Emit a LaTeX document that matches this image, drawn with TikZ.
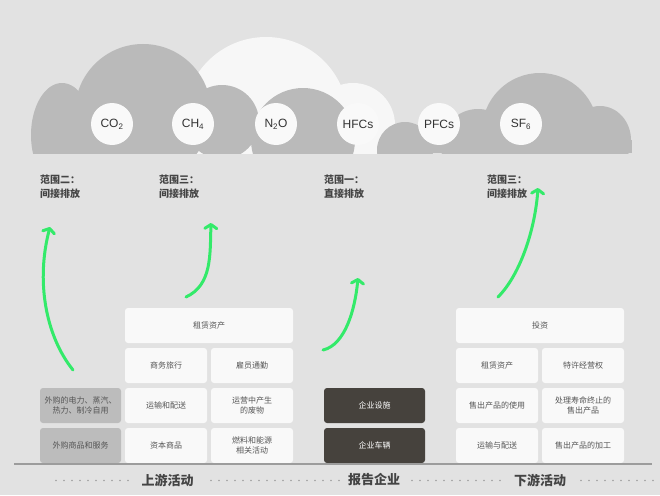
\documentclass[tikz,border=0pt]{standalone}
\usepackage{fontspec}
\setmainfont{Noto Sans CJK SC}
\newfontfamily\gasfont{Liberation Sans}
\usetikzlibrary{arrows.meta}

\definecolor{bgcolor}{HTML}{E2E2E2}
\definecolor{cloudgray}{HTML}{BABABA}
\definecolor{cloudwhite}{HTML}{F7F7F7}
\definecolor{boxwhite}{HTML}{F9F9F9}
\definecolor{boxgray}{HTML}{BCBCBC}
\definecolor{boxdark}{HTML}{46423D}
\definecolor{txtgray}{HTML}{555555}
\definecolor{labelgray}{HTML}{444444}
\definecolor{flowgreen}{HTML}{33EA6A}
\definecolor{linegray}{HTML}{9C9C9C}
\definecolor{dotgray}{HTML}{9E9E9E}

\tikzset{
  cell/.style={fill=boxwhite, rounded corners=3pt, minimum width=82pt, minimum height=35pt,
    inner sep=0pt, align=center, text=txtgray, font=\fontsize{8}{10.5}\selectfont},
  widecell/.style={cell, minimum width=168pt},
  graycell/.style={cell, fill=boxgray, minimum width=81pt},
  darkcell/.style={cell, fill=boxdark, text=white, minimum width=101pt},
  gas/.style={circle, fill=boxwhite, minimum size=42pt, inner sep=0pt, text=black!80,
    font=\gasfont\fontsize{12}{12}\selectfont},
  scopelabel/.style={anchor=north west, align=left, inner sep=0pt, text=labelgray,
    font=\fontsize{10}{14}\selectfont\bfseries},
  grouplabel/.style={inner sep=0pt, text=labelgray, font=\fontsize{13}{13}\selectfont\bfseries},
  flow/.style={draw=flowgreen, line width=3pt, line cap=round,
    -{Straight Barb[round,length=4pt,width=12pt]}},
  dots/.style={dotgray, line width=1.6pt, line cap=round, dash pattern=on 0pt off 8pt},
}

\begin{document}
\begin{tikzpicture}[x=1pt,y=-1pt]
\fill[bgcolor] (0,0) rectangle (660,495);

% clouds
\begin{scope}
\clip (0,0) rectangle (660,153);
\fill[cloudwhite] (266,119) circle (82);
\fill[cloudwhite] (353,125) circle (42);
\fill[cloudgray] (62,135) ellipse (31 and 52);
\fill[cloudgray] (143,112) circle (68);
\fill[cloudgray] (222,122) circle (37);
\fill[cloudgray] (303,140) circle (52);
\fill[cloudgray] (405,150) circle (28);
\fill[cloudgray] (380,140) rectangle (632,153);
\fill[cloudgray] (478,146) circle (37);
\fill[cloudgray] (540,131) circle (58);
\fill[cloudgray] (600,140) ellipse (31 and 34);
\end{scope}

\node[gas] (co2) at (112,124) {CO\textsubscript{2}};
\node[gas] (ch4) at (193,124) {CH\textsubscript{4}};
\node[gas] (n2o) at (276,124) {N\textsubscript{2}O};
\node[gas] (hfcs) at (358,124) {HFCs};
\node[gas] (pfcs) at (439,124) {PFCs};
\node[gas] (sf6) at (521,124) {SF\textsubscript{6}};

% scopes
\node[scopelabel] (scope2) at (40,175) {范围二：\\间接排放};
\node[scopelabel] (scope3up) at (159,175) {范围三：\\间接排放};
\node[scopelabel] (scope1) at (324,175) {范围一：\\直接排放};
\node[scopelabel] (scope3down) at (487,175) {范围三：\\间接排放};

% upstream
\node[graycell] (power) at (80.5,405.5) {外购的电力、蒸汽、\\热力、制冷自用};
\node[graycell] (goods) at (80.5,445.5) {外购商品和服务};
\node[widecell] (upleased) at (209,325.5) {租赁资产};
\node[cell] (travel) at (166,365.5) {商务旅行};
\node[cell] (commute) at (252,365.5) {雇员通勤};
\node[cell] (uptransport) at (166,405.5) {运输和配送};
\node[cell] (waste) at (252,405.5) {运营中产生\\的废物};
\node[cell] (capital) at (166,445.5) {资本商品};
\node[cell] (fuel) at (252,445.5) {燃料和能源\\相关活动};

% reporting company
\node[darkcell] (facility) at (374.5,405.5) {企业设施};
\node[darkcell] (vehicle) at (374.5,445.5) {企业车辆};

% downstream
\node[widecell] (invest) at (540,325.5) {投资};
\node[cell] (downleased) at (497,365.5) {租赁资产};
\node[cell] (franchise) at (583,365.5) {特许经营权};
\node[cell] (use) at (497,405.5) {售出产品的使用};
\node[cell] (endlife) at (583,405.5) {处理寿命终止的\\售出产品};
\node[cell] (downtransport) at (497,445.5) {运输与配送};
\node[cell] (processing) at (583,445.5) {售出产品的加工};

\draw[linegray, line width=2pt] (14,464) -- (652,464);

\draw[dots] (56,480.5) -- (132,480.5);
\draw[dots] (211,480.5) -- (340,480.5);
\draw[dots] (412,480.5) -- (505,480.5);
\draw[dots] (581,480.5) -- (655,480.5);
\node[grouplabel] (upstream) at (167.5,480) {上游活动};
\node[grouplabel] (company) at (374,480) {报告企业};
\node[grouplabel] (downstream) at (540,480) {下游活动};

% green flows
\coordinate (flow2a) at (73,370);
\coordinate (flow2b) at (50,227);
\coordinate (flow3a) at (186,297);
\coordinate (flow3b) at (211,223);
\coordinate (flow1a) at (323,350);
\coordinate (flow1b) at (358,278);
\coordinate (flow4a) at (498,297);
\coordinate (flow4b) at (538,188);
\draw[flow] (flow2a) .. controls (45,335) and (36,280) .. (flow2b);
\draw[flow] (flow3a) .. controls (212,285) and (210,255) .. (flow3b);
\draw[flow] (flow1a) .. controls (345,345) and (355,310) .. (flow1b);
\draw[flow] (flow4a) .. controls (520,275) and (535,230) .. (flow4b);
\end{tikzpicture}
\end{document}
